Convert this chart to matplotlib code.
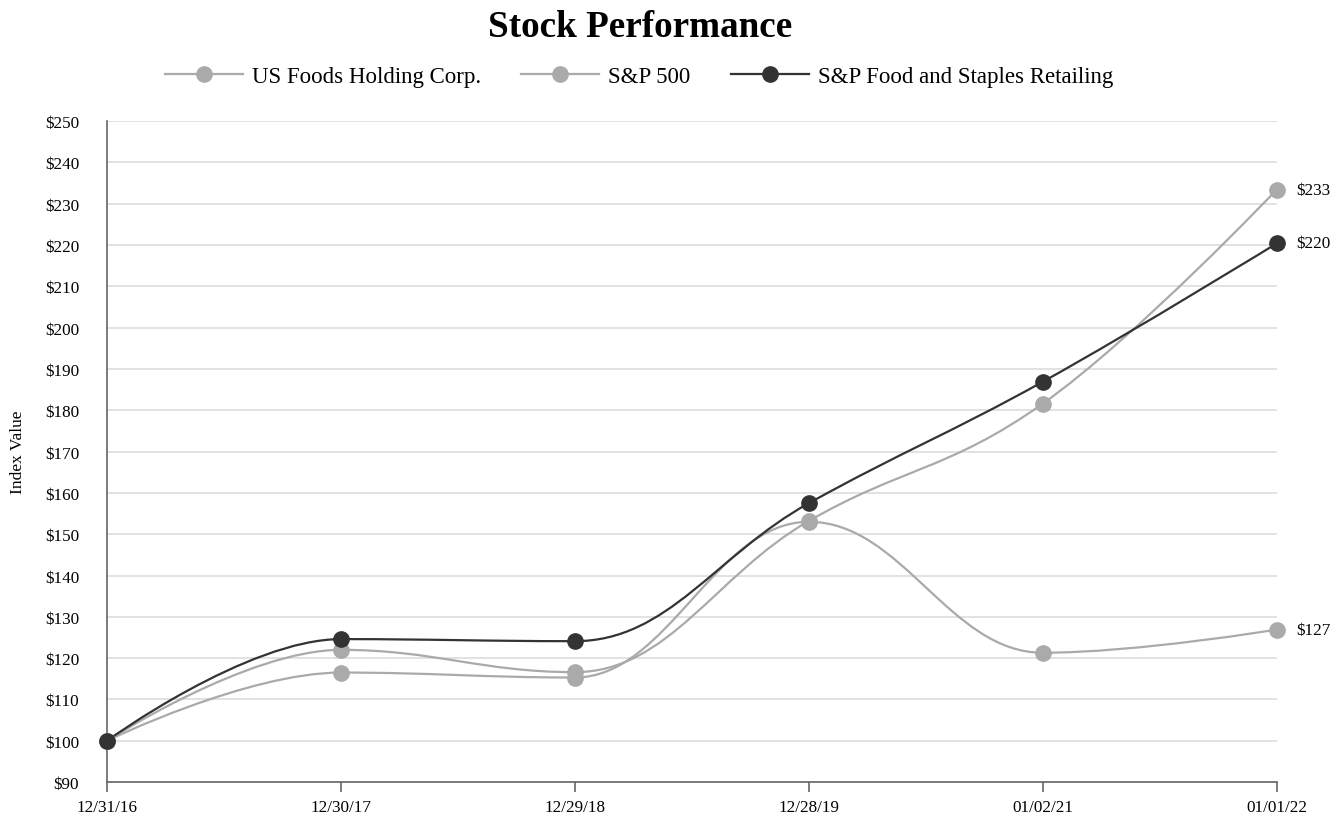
import matplotlib
matplotlib.use('Agg')
import matplotlib.pyplot as plt
from matplotlib.path import Path
from matplotlib.patches import PathPatch

plt.rcParams['font.family'] = ['Liberation Serif', 'DejaVu Serif']

# Data
dates = ['12/31/16', '12/30/17', '12/29/18', '12/28/19', '01/02/21', '01/01/22']
us_foods = [100, 116.5, 115.3, 153.0, 121.3, 126.9]
sp500 = [100, 122.0, 116.6, 153.2, 181.6, 233.4]
sp_food = [100, 124.6, 124.1, 157.5, 186.9, 220.4]

series = [
    ('US Foods Holding Corp.', us_foods, '#aaaaaa'),
    ('S&P 500', sp500, '#aaaaaa'),
    ('S&P Food and Staples Retailing', sp_food, '#333333'),
]


# Highcharts style spline path through the points
def spline_path(xs, ys, smoothing=1.5):
    denom = smoothing + 1
    n = len(xs)
    left = [None] * n
    right = [None] * n
    for i in range(1, n - 1):
        px, py = xs[i], ys[i]
        lx, ly = xs[i - 1], ys[i - 1]
        nx, ny = xs[i + 1], ys[i + 1]
        lcx = (smoothing * px + lx) / denom
        lcy = (smoothing * py + ly) / denom
        rcx = (smoothing * px + nx) / denom
        rcy = (smoothing * py + ny) / denom
        corr = 0
        if rcx != lcx:
            corr = (rcy - lcy) * (rcx - px) / (rcx - lcx) + py - rcy
        lcy += corr
        rcy += corr
        if lcy > ly and lcy > py:
            lcy = max(ly, py)
            rcy = 2 * py - lcy
        elif lcy < ly and lcy < py:
            lcy = min(ly, py)
            rcy = 2 * py - lcy
        if rcy > ny and rcy > py:
            rcy = max(ny, py)
            lcy = 2 * py - rcy
        elif rcy < ny and rcy < py:
            rcy = min(ny, py)
            lcy = 2 * py - rcy
        left[i] = (lcx, lcy)
        right[i] = (rcx, rcy)
    verts = [(xs[0], ys[0])]
    codes = [Path.MOVETO]
    for i in range(1, n):
        c1 = right[i - 1] if right[i - 1] else (xs[i - 1], ys[i - 1])
        c2 = left[i] if left[i] else (xs[i], ys[i])
        verts += [c1, c2, (xs[i], ys[i])]
        codes += [Path.CURVE4] * 3
    return Path(verts, codes)


fig = plt.figure(figsize=(13.34, 8.2), dpi=100)
ax = fig.add_axes([0.0802, 0.0451, 0.957 - 0.0802, 0.851 - 0.0451])

x = list(range(len(dates)))
for name, vals, color in series:
    ax.add_patch(PathPatch(spline_path(x, vals), facecolor='none',
                           edgecolor=color, lw=1.6, zorder=3))
    ax.plot(x, vals, 'o', color=color, ms=11, zorder=4, clip_on=False)
    ax.plot([], [], '-o', color=color, ms=11, lw=1.6, label=name)

# end labels
for name, vals, color in series:
    ax.annotate(f'${round(vals[-1])}', (x[-1], vals[-1]), xytext=(14, 0),
                textcoords='offset points', va='center', ha='left',
                fontsize=12.3, annotation_clip=False)

ax.set_xlim(0, len(dates) - 1)
ax.set_ylim(90, 250)
ax.set_yticks(range(90, 251, 10))
ax.set_yticklabels([f'${v}' for v in range(90, 251, 10)], fontsize=12.3)
ax.set_xticks(x)
ax.set_xticklabels(dates, fontsize=12.3)
ax.grid(axis='y', color='#dddddd', lw=1.2, zorder=0)
ax.tick_params(axis='y', length=0, pad=20)
ax.tick_params(axis='x', length=7, color='#666666', width=1.2, pad=5)
for s in ['top', 'right']:
    ax.spines[s].set_visible(False)
ax.spines['left'].set_color('#666666')
ax.spines['bottom'].set_color('#666666')
ax.spines['left'].set_linewidth(1.2)
ax.spines['bottom'].set_linewidth(1.2)
ax.set_ylabel('Index Value', fontsize=12.5)
ax.yaxis.set_label_coords(-0.069, 0.5)

fig.text(0.48, 0.966, 'Stock Performance', ha='center', va='center',
         fontsize=26.7, fontweight='bold')
fig.legend(loc='center', bbox_to_anchor=(0.479, 0.906), ncol=3, frameon=False,
           fontsize=16.5, handlelength=3.4, columnspacing=1.75, handletextpad=0.4)

fig.savefig('out.png', dpi=100)
